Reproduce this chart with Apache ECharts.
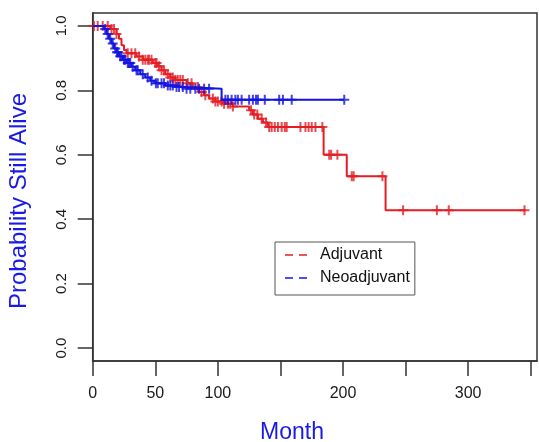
<!DOCTYPE html>
<html>
<head>
<meta charset="utf-8">
<script src="https://cdn.jsdelivr.net/npm/echarts@6/dist/echarts.min.js"></script>
<style>html,body{margin:0;padding:0;background:#fff;}#c{width:539px;height:442px;}</style>
</head>
<body>
<div id="c"></div>
<script>
// ---- data ----
const seriesNames = ['Adjuvant', 'Neoadjuvant'];
const redTimes = [0,14,19,21,23,25,27,35,40,48,52,55,58,62,66,75,80,85,89,93,98,104,112,125,128,132,136,140,184.5,203,234];
const redSurv  = [1,0.99,0.975,0.96,0.94,0.925,0.915,0.905,0.895,0.885,0.875,0.862,0.85,0.84,0.832,0.822,0.81,0.795,0.785,0.775,0.765,0.758,0.75,0.738,0.725,0.712,0.70,0.686,0.600,0.533,0.428];
const redEnd = 346;
const redCensor = [1,4,8,12,15,17,19,28,31,34,37,40,42,44,45,47,50,51,53,55,57,60,62,64,66,68,70,72,76,79,84,87,90,96,98,100,103,105,108,110,112,126.5,129,131.5,135,138.5,141,143,145.5,148,151,153.5,155,166,170,172.5,175,178,183.5,189,190.5,195.5,207,208.5,231.5,248,275,284.5,345];
const blueTimes = [0,9,11,13,15,17,19,21,24,27,31,34,38,42,46,50,58,66,74,103];
const blueSurv  = [1,0.99,0.975,0.96,0.945,0.93,0.918,0.906,0.895,0.885,0.873,0.862,0.85,0.84,0.83,0.822,0.815,0.81,0.805,0.771];
const blueEnd = 201;
const blueCensor = [10,12,14,16,18,19.5,20,22,23,25,26,28,29,30,32,35,36,40,44,47,50.5,52,55,57,60,62,64,67,69,72,75,78,82,85,89,93,106,108,111,114,116,119,125,128,130.5,132,137.5,149,152,159,201];
const xTicks = [0,50,100,150,200,250,300,350];
const xLabels = [0,50,100,200,300];
const yTicks = [0,0.2,0.4,0.6,0.8,1.0];

// ---- helpers ----
function stepData(times, surv, end) {
  const d = times.map((t, i) => [t, surv[i]]);
  d.push([end, surv[surv.length - 1]]);
  return d;
}
function censorData(times, surv, cens) {
  return cens.map(c => {
    let s = surv[0];
    for (let i = 0; i < times.length; i++) if (times[i] <= c) s = surv[i];
    return [c, s];
  });
}

const RED = '#e31e24', BLUE = '#1414e0';
const PLUS = 'path://M4,0h2v10h-2z M0,4h10v2h-10z';
const FONT = 'Liberation Sans, Arial, sans-serif';

const chart = echarts.init(document.getElementById('c'), null, {renderer: 'canvas'});
chart.setOption({
  animation: false,
  backgroundColor: '#fff',
  grid: {left: 92.7, right: 2, top: 13, bottom: 81, show: true, borderColor: '#333', borderWidth: 1.5, backgroundColor: 'transparent'},
  xAxis: {
    type: 'value', min: 0, max: 355,
    axisLine: {show: true, onZero: false, lineStyle: {color: '#333', width: 1.5}},
    axisTick: {show: true, inside: false, length: 15, customValues: xTicks, lineStyle: {color: '#333', width: 1.5}},
    axisLabel: {customValues: xLabels, margin: 25, fontSize: 16, color: '#1a1a1a', fontFamily: FONT, showMinLabel: true, showMaxLabel: true},
    splitLine: {show: false}
  },
  yAxis: {
    type: 'value', min: -0.04, max: 1.04,
    axisLine: {show: true, onZero: false, lineStyle: {color: '#333', width: 1.5}},
    axisTick: {show: true, inside: false, length: 15, customValues: yTicks, lineStyle: {color: '#333', width: 1.5}},
    axisLabel: {customValues: yTicks, rotate: 90, margin: 23, fontSize: 15, color: '#1a1a1a', fontFamily: FONT,
      formatter: v => v.toFixed(1)},
    splitLine: {show: false}
  },
  legend: {
    data: seriesNames, orient: 'vertical', left: 275, top: 242,
    padding: [5, 5, 9, 10], itemGap: 7, itemWidth: 22, itemHeight: 2,
    borderColor: '#555', borderWidth: 1, backgroundColor: '#fff',
    icon: 'path://M0,0h8v1.6h-8z M14,0h8v1.6h-8z',
    textStyle: {fontSize: 16, color: '#111', fontFamily: FONT, padding: [0, 0, 0, 8]}
  },
  graphic: [
    {type: 'text', x: 19, y: 201, rotation: Math.PI / 2,
      style: {text: 'Probability Still Alive', fill: '#1a1ae6', font: '24px ' + FONT, textAlign: 'center', textVerticalAlign: 'middle'}},
    {type: 'text', x: 292, y: 433,
      style: {text: 'Month', fill: '#1a1ae6', font: '23px ' + FONT, textAlign: 'center', textVerticalAlign: 'middle'}}
  ],
  series: [
    {name: seriesNames[0], type: 'line', step: 'end', showSymbol: false, symbol: 'none', data: stepData(redTimes, redSurv, redEnd),
      lineStyle: {color: RED, width: 2}, itemStyle: {color: RED}, z: 2},
    {name: seriesNames[0] + ' censored', type: 'scatter', symbol: PLUS, symbolSize: 10, data: censorData(redTimes, redSurv, redCensor),
      itemStyle: {color: RED}, silent: true, z: 3},
    {name: seriesNames[1], type: 'line', step: 'end', showSymbol: false, symbol: 'none', data: stepData(blueTimes, blueSurv, blueEnd),
      lineStyle: {color: BLUE, width: 2}, itemStyle: {color: BLUE}, z: 4},
    {name: seriesNames[1] + ' censored', type: 'scatter', symbol: PLUS, symbolSize: 10, data: censorData(blueTimes, blueSurv, blueCensor),
      itemStyle: {color: BLUE}, silent: true, z: 5}
  ]
});
</script>
</body>
</html>
